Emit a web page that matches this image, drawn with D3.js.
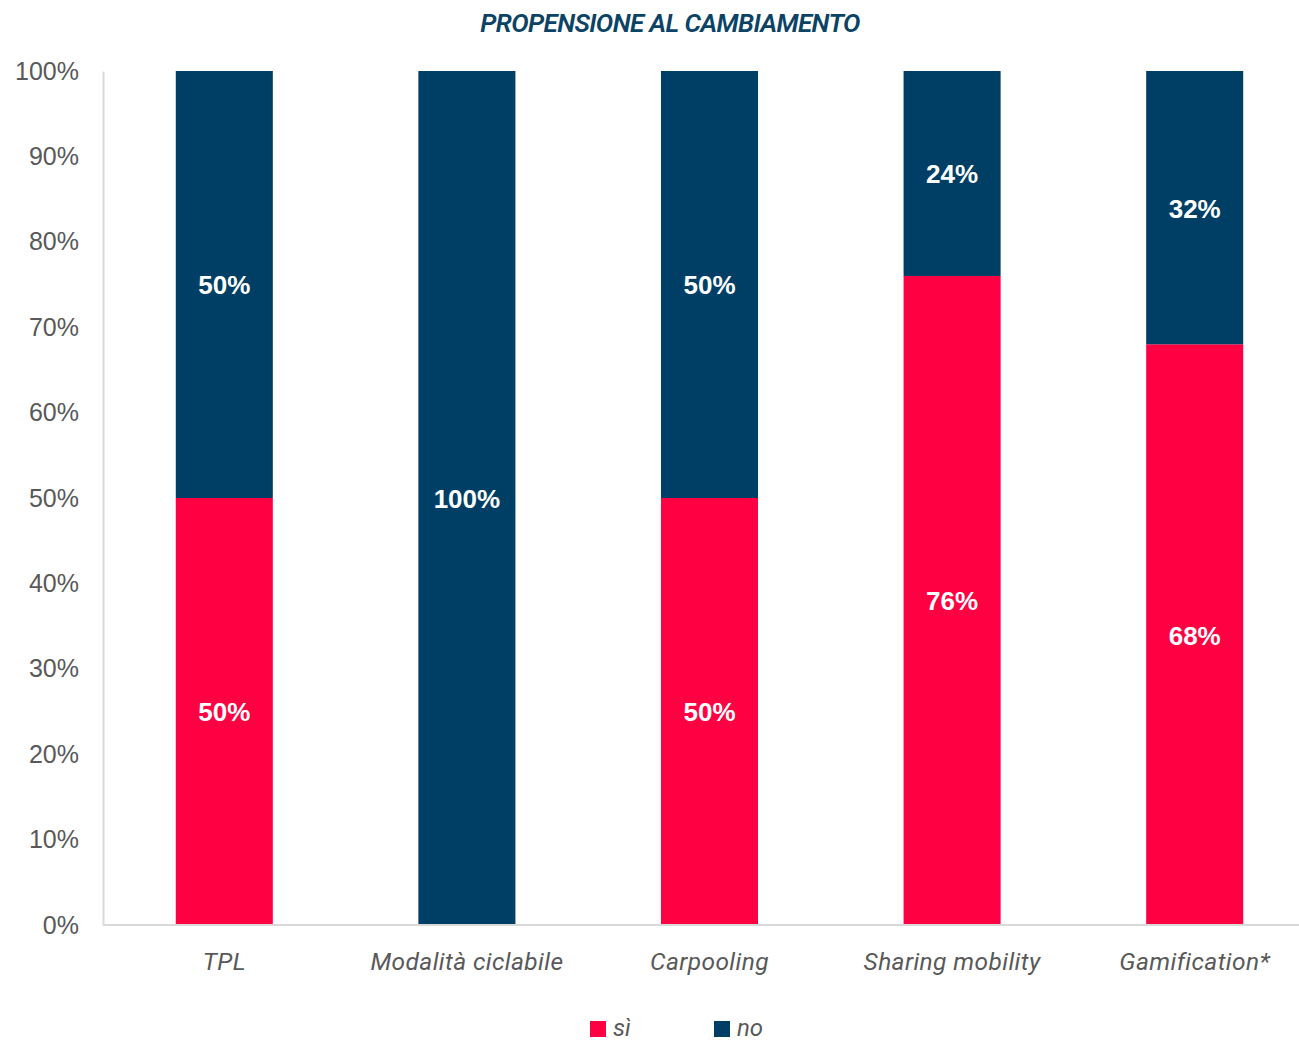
<!DOCTYPE html>
<html>
<head>
<meta charset="utf-8">
<script src="https://cdn.jsdelivr.net/npm/d3@7"></script>
<style>
  html, body { margin: 0; padding: 0; background: #ffffff; }
  svg { display: block; }
</style>
</head>
<body>
<svg id="chart" width="1299" height="1042"></svg>
<script>
// Propensione al cambiamento: stacked 100% bars, "sì" at the bottom, "no" on top
const categories = ["TPL", "Modalità ciclabile", "Carpooling", "Sharing mobility", "Gamification*"];
const siValues = [50, 0, 50, 76, 68];
const noValues = [50, 100, 50, 24, 32];
const yTicks = [0, 10, 20, 30, 40, 50, 60, 70, 80, 90, 100];
const seriesNames = ["sì", "no"];

const colors = { "sì": "#FF0042", "no": "#003F65" };

const svg = d3.select("#chart");
const W = 1299, H = 1042;
const margin = { left: 103, top: 71, bottom: H - 925 };

const x = d3.scaleBand()
  .domain(categories)
  .range([margin.left, margin.left + 5 * 242.6])
  .paddingInner(0.6)
  .paddingOuter(0.3);

const y = d3.scaleLinear().domain([0, 100]).range([925, 71]);

// Title
svg.append("text")
  .attr("x", 670).attr("y", 32)
  .attr("text-anchor", "middle")
  .attr("font-family", "Roboto, sans-serif")
  .attr("font-style", "italic")
  .attr("font-weight", 600)
  .attr("font-size", 26)
  .attr("letter-spacing", -0.6)
  .attr("fill", "#0B4366")
  .text("PROPENSIONE AL CAMBIAMENTO");

// Stacked data
const rows = categories.map((c, i) => ({ cat: c, "sì": siValues[i], "no": noValues[i] }));
const stack = d3.stack().keys(seriesNames)(rows);

const layers = svg.append("g").selectAll("g")
  .data(stack).join("g")
  .attr("fill", d => colors[d.key]);

layers.selectAll("rect")
  .data(d => d)
  .join("rect")
  .attr("x", d => x(d.data.cat))
  .attr("width", x.bandwidth())
  .attr("y", d => y(d[1]))
  .attr("height", d => y(d[0]) - y(d[1]));

// Value labels centered in each segment
layers.selectAll("text")
  .data(d => d.filter(s => s[1] - s[0] > 0).map(s => ({ s, key: d.key })))
  .join("text")
  .attr("x", d => x(d.s.data.cat) + x.bandwidth() / 2)
  .attr("y", d => y((d.s[0] + d.s[1]) / 2))
  .attr("dy", "0.38em")
  .attr("text-anchor", "middle")
  .attr("font-family", "Liberation Sans, Arial, sans-serif")
  .attr("font-weight", "bold")
  .attr("font-size", 26)
  .attr("fill", "#ffffff")
  .text(d => (d.s[1] - d.s[0]) + "%");

// Y axis
const yAxis = svg.append("g")
  .attr("transform", `translate(${margin.left},0)`)
  .call(d3.axisLeft(y).tickValues(yTicks).tickSize(0).tickPadding(24).tickFormat(d => d + "%"));
yAxis.select(".domain").attr("stroke", "#D9D9D9").attr("stroke-width", 2);
yAxis.selectAll("text")
  .attr("font-family", "Liberation Sans, Arial, sans-serif")
  .attr("font-size", 25)
  .attr("fill", "#595959");

// X axis
const xAxis = svg.append("g")
  .attr("transform", "translate(0,925)")
  .call(d3.axisBottom(x).tickSize(0).tickPadding(28));
xAxis.select(".domain").remove();
xAxis.append("line")
  .attr("x1", margin.left).attr("x2", W)
  .attr("stroke", "#D9D9D9").attr("stroke-width", 2);
xAxis.selectAll("text")
  .attr("font-family", "Roboto, sans-serif")
  .attr("font-style", "italic")
  .attr("font-size", 24.5)
  .attr("letter-spacing", 0.4)
  .attr("fill", "#595959");

// Legend
const legendItems = [{ name: "sì", x: 590 }, { name: "no", x: 714 }];
const legend = svg.append("g");
legendItems.forEach(it => {
  legend.append("rect")
    .attr("x", it.x).attr("y", 1021).attr("width", 16).attr("height", 16)
    .attr("fill", colors[it.name]);
  legend.append("text")
    .attr("x", it.x + 23).attr("y", 1036)
    .attr("font-family", "Roboto, sans-serif")
    .attr("font-style", "italic")
    .attr("font-size", 24)
    .attr("fill", "#595959")
    .text(it.name);
});
</script>
</body>
</html>
